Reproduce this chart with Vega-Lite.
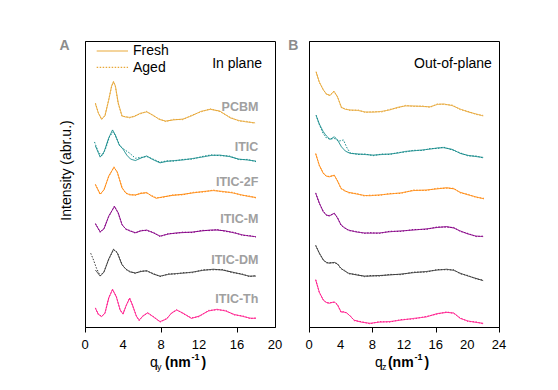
{
  "$schema": "https://vega.github.io/schema/vega-lite/v6.json",
  "background": "white",
  "padding": {"left": 58, "top": 38, "right": 5, "bottom": 5},
  "spacing": 34,
  "bounds": "flush",
  "config": {
    "view": {"stroke": "#000", "strokeWidth": 1},
    "font": "Liberation Sans",
    "axis": {"grid": false, "domainColor": "#000", "tickColor": "#000", "labelColor": "#000", "labelFont": "Liberation Sans", "titleFont": "Liberation Sans", "labelFontSize": 13, "tickSize": 5, "labelPadding": 2, "titleColor": "#000", "titleFontWeight": "normal"}
  },
  "resolve": {"scale": {"x": "independent", "y": "independent"}},
  "datasets": {
    "A": [
      {"s":"PCBM","c":"Fresh","x":1.1,"y":78.0},{"s":"PCBM","c":"Fresh","x":1.4,"y":74.8},{"s":"PCBM","c":"Fresh","x":1.75,"y":72.7},{"s":"PCBM","c":"Fresh","x":2.1,"y":73.8},{"s":"PCBM","c":"Fresh","x":2.5,"y":79.4},{"s":"PCBM","c":"Fresh","x":2.8,"y":84.3},{"s":"PCBM","c":"Fresh","x":3.0,"y":85.7},{"s":"PCBM","c":"Fresh","x":3.2,"y":84.3},{"s":"PCBM","c":"Fresh","x":3.5,"y":78.3},{"s":"PCBM","c":"Fresh","x":3.9,"y":73.8},{"s":"PCBM","c":"Fresh","x":4.3,"y":73.4},{"s":"PCBM","c":"Fresh","x":4.7,"y":73.3},{"s":"PCBM","c":"Fresh","x":5.2,"y":73.6},{"s":"PCBM","c":"Fresh","x":5.8,"y":74.7},{"s":"PCBM","c":"Fresh","x":6.5,"y":75.2},{"s":"PCBM","c":"Fresh","x":7.2,"y":74.0},{"s":"PCBM","c":"Fresh","x":7.8,"y":72.6},{"s":"PCBM","c":"Fresh","x":8.5,"y":72.0},{"s":"PCBM","c":"Fresh","x":9.3,"y":72.4},{"s":"PCBM","c":"Fresh","x":10.3,"y":72.7},{"s":"PCBM","c":"Fresh","x":11.2,"y":73.8},{"s":"PCBM","c":"Fresh","x":12.2,"y":75.4},{"s":"PCBM","c":"Fresh","x":13.2,"y":76.1},{"s":"PCBM","c":"Fresh","x":14.2,"y":75.5},{"s":"PCBM","c":"Fresh","x":15.3,"y":73.1},{"s":"PCBM","c":"Fresh","x":16.2,"y":72.2},{"s":"PCBM","c":"Fresh","x":17.0,"y":71.7},{"s":"PCBM","c":"Fresh","x":17.9,"y":71.4},
      {"s":"ITIC","c":"Fresh","x":1.1,"y":63.3},{"s":"ITIC","c":"Fresh","x":1.6,"y":59.4},{"s":"ITIC","c":"Fresh","x":2.0,"y":61.2},{"s":"ITIC","c":"Fresh","x":2.5,"y":66.1},{"s":"ITIC","c":"Fresh","x":2.9,"y":68.9},{"s":"ITIC","c":"Fresh","x":3.2,"y":67.1},{"s":"ITIC","c":"Fresh","x":3.6,"y":63.6},{"s":"ITIC","c":"Fresh","x":4.0,"y":62.2},{"s":"ITIC","c":"Fresh","x":4.4,"y":60.1},{"s":"ITIC","c":"Fresh","x":4.8,"y":58.7},{"s":"ITIC","c":"Fresh","x":5.3,"y":58.2},{"s":"ITIC","c":"Fresh","x":5.9,"y":59.1},{"s":"ITIC","c":"Fresh","x":6.5,"y":59.8},{"s":"ITIC","c":"Fresh","x":7.1,"y":58.6},{"s":"ITIC","c":"Fresh","x":7.9,"y":57.4},{"s":"ITIC","c":"Fresh","x":8.6,"y":57.9},{"s":"ITIC","c":"Fresh","x":9.4,"y":58.2},{"s":"ITIC","c":"Fresh","x":10.3,"y":58.4},{"s":"ITIC","c":"Fresh","x":11.3,"y":58.9},{"s":"ITIC","c":"Fresh","x":12.3,"y":59.4},{"s":"ITIC","c":"Fresh","x":13.3,"y":60.0},{"s":"ITIC","c":"Fresh","x":14.2,"y":60.1},{"s":"ITIC","c":"Fresh","x":15.2,"y":59.6},{"s":"ITIC","c":"Fresh","x":16.2,"y":58.7},{"s":"ITIC","c":"Fresh","x":17.1,"y":58.4},{"s":"ITIC","c":"Fresh","x":18.0,"y":58.0},
      {"s":"ITIC-2F","c":"Fresh","x":1.1,"y":49.7},{"s":"ITIC-2F","c":"Fresh","x":1.6,"y":46.5},{"s":"ITIC-2F","c":"Fresh","x":2.0,"y":47.9},{"s":"ITIC-2F","c":"Fresh","x":2.5,"y":52.8},{"s":"ITIC-2F","c":"Fresh","x":3.05,"y":55.8},{"s":"ITIC-2F","c":"Fresh","x":3.4,"y":54.2},{"s":"ITIC-2F","c":"Fresh","x":3.9,"y":48.6},{"s":"ITIC-2F","c":"Fresh","x":4.3,"y":46.9},{"s":"ITIC-2F","c":"Fresh","x":4.7,"y":46.2},{"s":"ITIC-2F","c":"Fresh","x":5.3,"y":46.2},{"s":"ITIC-2F","c":"Fresh","x":5.9,"y":46.7},{"s":"ITIC-2F","c":"Fresh","x":6.5,"y":47.0},{"s":"ITIC-2F","c":"Fresh","x":7.0,"y":45.8},{"s":"ITIC-2F","c":"Fresh","x":7.5,"y":45.0},{"s":"ITIC-2F","c":"Fresh","x":8.2,"y":45.5},{"s":"ITIC-2F","c":"Fresh","x":9.2,"y":46.0},{"s":"ITIC-2F","c":"Fresh","x":10.3,"y":46.4},{"s":"ITIC-2F","c":"Fresh","x":11.4,"y":46.9},{"s":"ITIC-2F","c":"Fresh","x":12.5,"y":47.4},{"s":"ITIC-2F","c":"Fresh","x":13.5,"y":47.7},{"s":"ITIC-2F","c":"Fresh","x":14.5,"y":47.4},{"s":"ITIC-2F","c":"Fresh","x":15.5,"y":46.9},{"s":"ITIC-2F","c":"Fresh","x":16.5,"y":46.2},{"s":"ITIC-2F","c":"Fresh","x":17.3,"y":45.6},{"s":"ITIC-2F","c":"Fresh","x":18.0,"y":45.3},
      {"s":"ITIC-M","c":"Fresh","x":1.1,"y":36.0},{"s":"ITIC-M","c":"Fresh","x":1.6,"y":33.3},{"s":"ITIC-M","c":"Fresh","x":2.0,"y":34.3},{"s":"ITIC-M","c":"Fresh","x":2.5,"y":38.8},{"s":"ITIC-M","c":"Fresh","x":3.1,"y":42.1},{"s":"ITIC-M","c":"Fresh","x":3.5,"y":39.9},{"s":"ITIC-M","c":"Fresh","x":3.9,"y":35.7},{"s":"ITIC-M","c":"Fresh","x":4.3,"y":34.3},{"s":"ITIC-M","c":"Fresh","x":4.7,"y":33.6},{"s":"ITIC-M","c":"Fresh","x":5.3,"y":33.0},{"s":"ITIC-M","c":"Fresh","x":5.9,"y":33.6},{"s":"ITIC-M","c":"Fresh","x":6.5,"y":33.9},{"s":"ITIC-M","c":"Fresh","x":7.2,"y":32.9},{"s":"ITIC-M","c":"Fresh","x":7.9,"y":31.8},{"s":"ITIC-M","c":"Fresh","x":8.8,"y":32.5},{"s":"ITIC-M","c":"Fresh","x":9.6,"y":32.9},{"s":"ITIC-M","c":"Fresh","x":10.3,"y":33.0},{"s":"ITIC-M","c":"Fresh","x":11.3,"y":33.2},{"s":"ITIC-M","c":"Fresh","x":12.3,"y":33.6},{"s":"ITIC-M","c":"Fresh","x":13.2,"y":33.9},{"s":"ITIC-M","c":"Fresh","x":13.9,"y":33.9},{"s":"ITIC-M","c":"Fresh","x":14.8,"y":33.6},{"s":"ITIC-M","c":"Fresh","x":15.7,"y":32.9},{"s":"ITIC-M","c":"Fresh","x":16.6,"y":32.2},{"s":"ITIC-M","c":"Fresh","x":17.3,"y":31.8},{"s":"ITIC-M","c":"Fresh","x":18.0,"y":31.6},
      {"s":"ITIC-DM","c":"Fresh","x":1.1,"y":19.9},{"s":"ITIC-DM","c":"Fresh","x":1.6,"y":17.8},{"s":"ITIC-DM","c":"Fresh","x":2.0,"y":19.2},{"s":"ITIC-DM","c":"Fresh","x":2.5,"y":23.8},{"s":"ITIC-DM","c":"Fresh","x":3.0,"y":27.2},{"s":"ITIC-DM","c":"Fresh","x":3.4,"y":25.9},{"s":"ITIC-DM","c":"Fresh","x":3.9,"y":21.7},{"s":"ITIC-DM","c":"Fresh","x":4.3,"y":20.3},{"s":"ITIC-DM","c":"Fresh","x":4.7,"y":19.3},{"s":"ITIC-DM","c":"Fresh","x":5.3,"y":18.9},{"s":"ITIC-DM","c":"Fresh","x":5.9,"y":19.4},{"s":"ITIC-DM","c":"Fresh","x":6.5,"y":19.7},{"s":"ITIC-DM","c":"Fresh","x":7.2,"y":18.5},{"s":"ITIC-DM","c":"Fresh","x":7.9,"y":17.8},{"s":"ITIC-DM","c":"Fresh","x":8.8,"y":18.4},{"s":"ITIC-DM","c":"Fresh","x":9.6,"y":18.7},{"s":"ITIC-DM","c":"Fresh","x":10.3,"y":18.8},{"s":"ITIC-DM","c":"Fresh","x":11.3,"y":19.2},{"s":"ITIC-DM","c":"Fresh","x":12.4,"y":19.8},{"s":"ITIC-DM","c":"Fresh","x":13.5,"y":20.2},{"s":"ITIC-DM","c":"Fresh","x":14.5,"y":19.9},{"s":"ITIC-DM","c":"Fresh","x":15.5,"y":19.2},{"s":"ITIC-DM","c":"Fresh","x":16.5,"y":18.4},{"s":"ITIC-DM","c":"Fresh","x":17.3,"y":17.8},{"s":"ITIC-DM","c":"Fresh","x":18.0,"y":17.8},
      {"s":"ITIC-Th","c":"Fresh","x":1.1,"y":6.5},{"s":"ITIC-Th","c":"Fresh","x":1.4,"y":4.5},{"s":"ITIC-Th","c":"Fresh","x":1.75,"y":3.6},{"s":"ITIC-Th","c":"Fresh","x":2.1,"y":4.9},{"s":"ITIC-Th","c":"Fresh","x":2.5,"y":10.1},{"s":"ITIC-Th","c":"Fresh","x":2.9,"y":13.2},{"s":"ITIC-Th","c":"Fresh","x":3.3,"y":10.5},{"s":"ITIC-Th","c":"Fresh","x":3.7,"y":6.0},{"s":"ITIC-Th","c":"Fresh","x":4.0,"y":4.5},{"s":"ITIC-Th","c":"Fresh","x":4.35,"y":7.7},{"s":"ITIC-Th","c":"Fresh","x":4.7,"y":10.0},{"s":"ITIC-Th","c":"Fresh","x":5.0,"y":7.7},{"s":"ITIC-Th","c":"Fresh","x":5.4,"y":3.8},{"s":"ITIC-Th","c":"Fresh","x":5.7,"y":2.4},{"s":"ITIC-Th","c":"Fresh","x":6.1,"y":3.8},{"s":"ITIC-Th","c":"Fresh","x":6.6,"y":5.0},{"s":"ITIC-Th","c":"Fresh","x":7.2,"y":3.5},{"s":"ITIC-Th","c":"Fresh","x":7.9,"y":1.9},{"s":"ITIC-Th","c":"Fresh","x":8.6,"y":2.8},{"s":"ITIC-Th","c":"Fresh","x":9.1,"y":4.9},{"s":"ITIC-Th","c":"Fresh","x":9.65,"y":5.9},{"s":"ITIC-Th","c":"Fresh","x":10.3,"y":4.9},{"s":"ITIC-Th","c":"Fresh","x":11.2,"y":3.0},{"s":"ITIC-Th","c":"Fresh","x":12.0,"y":3.8},{"s":"ITIC-Th","c":"Fresh","x":13.0,"y":5.6},{"s":"ITIC-Th","c":"Fresh","x":13.9,"y":6.2},{"s":"ITIC-Th","c":"Fresh","x":14.8,"y":5.6},{"s":"ITIC-Th","c":"Fresh","x":15.7,"y":4.4},{"s":"ITIC-Th","c":"Fresh","x":16.6,"y":3.7},{"s":"ITIC-Th","c":"Fresh","x":17.4,"y":3.1},{"s":"ITIC-Th","c":"Fresh","x":18.0,"y":3.0},
      {"s":"PCBM","c":"Aged","x":1.1,"y":78.3},{"s":"PCBM","c":"Aged","x":1.4,"y":75.0},{"s":"PCBM","c":"Aged","x":1.75,"y":72.5},{"s":"PCBM","c":"Aged","x":2.1,"y":74.0},{"s":"PCBM","c":"Aged","x":2.5,"y":79.6},{"s":"PCBM","c":"Aged","x":2.8,"y":84.0},{"s":"PCBM","c":"Aged","x":3.0,"y":85.9},{"s":"PCBM","c":"Aged","x":3.2,"y":84.0},{"s":"PCBM","c":"Aged","x":3.5,"y":78.0},{"s":"PCBM","c":"Aged","x":3.9,"y":73.6},{"s":"PCBM","c":"Aged","x":4.3,"y":73.6},{"s":"PCBM","c":"Aged","x":4.7,"y":73.1},{"s":"PCBM","c":"Aged","x":5.2,"y":73.8},{"s":"PCBM","c":"Aged","x":5.8,"y":74.5},{"s":"PCBM","c":"Aged","x":6.5,"y":75.4},{"s":"PCBM","c":"Aged","x":7.2,"y":73.8},{"s":"PCBM","c":"Aged","x":7.8,"y":72.8},{"s":"PCBM","c":"Aged","x":8.5,"y":71.8},{"s":"PCBM","c":"Aged","x":9.3,"y":72.6},{"s":"PCBM","c":"Aged","x":10.3,"y":72.5},{"s":"PCBM","c":"Aged","x":11.2,"y":74.0},{"s":"PCBM","c":"Aged","x":12.2,"y":75.2},{"s":"PCBM","c":"Aged","x":13.2,"y":76.3},{"s":"PCBM","c":"Aged","x":14.2,"y":75.3},{"s":"PCBM","c":"Aged","x":15.3,"y":73.3},{"s":"PCBM","c":"Aged","x":16.2,"y":72.0},{"s":"PCBM","c":"Aged","x":17.0,"y":71.9},{"s":"PCBM","c":"Aged","x":17.9,"y":71.2},
      {"s":"ITIC","c":"Aged","x":1.0,"y":64.7},{"s":"ITIC","c":"Aged","x":1.4,"y":61.2},{"s":"ITIC","c":"Aged","x":1.8,"y":59.8},{"s":"ITIC","c":"Aged","x":2.2,"y":62.6},{"s":"ITIC","c":"Aged","x":2.6,"y":66.8},{"s":"ITIC","c":"Aged","x":3.0,"y":68.2},{"s":"ITIC","c":"Aged","x":3.3,"y":66.1},{"s":"ITIC","c":"Aged","x":3.7,"y":63.3},{"s":"ITIC","c":"Aged","x":4.2,"y":61.9},{"s":"ITIC","c":"Aged","x":4.7,"y":60.8},{"s":"ITIC","c":"Aged","x":5.3,"y":59.0},{"s":"ITIC","c":"Aged","x":5.9,"y":59.3},{"s":"ITIC","c":"Aged","x":6.5,"y":59.6},{"s":"ITIC","c":"Aged","x":7.1,"y":58.8},{"s":"ITIC","c":"Aged","x":7.9,"y":57.6},{"s":"ITIC","c":"Aged","x":8.6,"y":58.1},{"s":"ITIC","c":"Aged","x":9.4,"y":58.0},{"s":"ITIC","c":"Aged","x":10.3,"y":58.6},{"s":"ITIC","c":"Aged","x":11.3,"y":58.7},{"s":"ITIC","c":"Aged","x":12.3,"y":59.6},{"s":"ITIC","c":"Aged","x":13.3,"y":60.2},{"s":"ITIC","c":"Aged","x":14.2,"y":59.9},{"s":"ITIC","c":"Aged","x":15.2,"y":59.8},{"s":"ITIC","c":"Aged","x":16.2,"y":58.5},{"s":"ITIC","c":"Aged","x":17.1,"y":58.6},{"s":"ITIC","c":"Aged","x":18.0,"y":57.8},
      {"s":"ITIC-2F","c":"Aged","x":1.1,"y":49.9},{"s":"ITIC-2F","c":"Aged","x":1.6,"y":46.3},{"s":"ITIC-2F","c":"Aged","x":2.0,"y":48.1},{"s":"ITIC-2F","c":"Aged","x":2.5,"y":52.6},{"s":"ITIC-2F","c":"Aged","x":3.05,"y":56.0},{"s":"ITIC-2F","c":"Aged","x":3.4,"y":54.0},{"s":"ITIC-2F","c":"Aged","x":3.9,"y":48.8},{"s":"ITIC-2F","c":"Aged","x":4.3,"y":46.7},{"s":"ITIC-2F","c":"Aged","x":4.7,"y":46.4},{"s":"ITIC-2F","c":"Aged","x":5.3,"y":46.0},{"s":"ITIC-2F","c":"Aged","x":5.9,"y":46.9},{"s":"ITIC-2F","c":"Aged","x":6.5,"y":46.8},{"s":"ITIC-2F","c":"Aged","x":7.0,"y":46.0},{"s":"ITIC-2F","c":"Aged","x":7.5,"y":45.2},{"s":"ITIC-2F","c":"Aged","x":8.2,"y":45.3},{"s":"ITIC-2F","c":"Aged","x":9.2,"y":46.2},{"s":"ITIC-2F","c":"Aged","x":10.3,"y":46.2},{"s":"ITIC-2F","c":"Aged","x":11.4,"y":47.1},{"s":"ITIC-2F","c":"Aged","x":12.5,"y":47.2},{"s":"ITIC-2F","c":"Aged","x":13.5,"y":47.9},{"s":"ITIC-2F","c":"Aged","x":14.5,"y":47.2},{"s":"ITIC-2F","c":"Aged","x":15.5,"y":47.1},{"s":"ITIC-2F","c":"Aged","x":16.5,"y":46.0},{"s":"ITIC-2F","c":"Aged","x":17.3,"y":45.8},{"s":"ITIC-2F","c":"Aged","x":18.0,"y":45.1},
      {"s":"ITIC-M","c":"Aged","x":1.1,"y":36.2},{"s":"ITIC-M","c":"Aged","x":1.6,"y":33.1},{"s":"ITIC-M","c":"Aged","x":2.0,"y":34.5},{"s":"ITIC-M","c":"Aged","x":2.5,"y":38.6},{"s":"ITIC-M","c":"Aged","x":3.1,"y":42.3},{"s":"ITIC-M","c":"Aged","x":3.5,"y":39.7},{"s":"ITIC-M","c":"Aged","x":3.9,"y":35.9},{"s":"ITIC-M","c":"Aged","x":4.3,"y":34.1},{"s":"ITIC-M","c":"Aged","x":4.7,"y":33.8},{"s":"ITIC-M","c":"Aged","x":5.3,"y":32.8},{"s":"ITIC-M","c":"Aged","x":5.9,"y":33.8},{"s":"ITIC-M","c":"Aged","x":6.5,"y":33.7},{"s":"ITIC-M","c":"Aged","x":7.2,"y":33.1},{"s":"ITIC-M","c":"Aged","x":7.9,"y":31.6},{"s":"ITIC-M","c":"Aged","x":8.8,"y":32.7},{"s":"ITIC-M","c":"Aged","x":9.6,"y":32.7},{"s":"ITIC-M","c":"Aged","x":10.3,"y":33.2},{"s":"ITIC-M","c":"Aged","x":11.3,"y":33.0},{"s":"ITIC-M","c":"Aged","x":12.3,"y":33.8},{"s":"ITIC-M","c":"Aged","x":13.2,"y":33.7},{"s":"ITIC-M","c":"Aged","x":13.9,"y":34.1},{"s":"ITIC-M","c":"Aged","x":14.8,"y":33.4},{"s":"ITIC-M","c":"Aged","x":15.7,"y":33.1},{"s":"ITIC-M","c":"Aged","x":16.6,"y":32.0},{"s":"ITIC-M","c":"Aged","x":17.3,"y":32.0},{"s":"ITIC-M","c":"Aged","x":18.0,"y":31.4},
      {"s":"ITIC-DM","c":"Aged","x":0.6,"y":25.8},{"s":"ITIC-DM","c":"Aged","x":0.9,"y":23.4},{"s":"ITIC-DM","c":"Aged","x":1.2,"y":20.6},{"s":"ITIC-DM","c":"Aged","x":1.6,"y":17.9},{"s":"ITIC-DM","c":"Aged","x":2.0,"y":19.4},{"s":"ITIC-DM","c":"Aged","x":2.5,"y":23.6},{"s":"ITIC-DM","c":"Aged","x":3.0,"y":27.0},{"s":"ITIC-DM","c":"Aged","x":3.4,"y":26.1},{"s":"ITIC-DM","c":"Aged","x":3.9,"y":21.9},{"s":"ITIC-DM","c":"Aged","x":4.3,"y":20.1},{"s":"ITIC-DM","c":"Aged","x":4.7,"y":19.5},{"s":"ITIC-DM","c":"Aged","x":5.3,"y":18.7},{"s":"ITIC-DM","c":"Aged","x":5.9,"y":19.6},{"s":"ITIC-DM","c":"Aged","x":6.5,"y":19.5},{"s":"ITIC-DM","c":"Aged","x":7.2,"y":18.7},{"s":"ITIC-DM","c":"Aged","x":7.9,"y":17.6},{"s":"ITIC-DM","c":"Aged","x":8.8,"y":18.6},{"s":"ITIC-DM","c":"Aged","x":9.6,"y":18.5},{"s":"ITIC-DM","c":"Aged","x":10.3,"y":19.0},{"s":"ITIC-DM","c":"Aged","x":11.3,"y":19.0},{"s":"ITIC-DM","c":"Aged","x":12.4,"y":20.0},{"s":"ITIC-DM","c":"Aged","x":13.5,"y":20.0},{"s":"ITIC-DM","c":"Aged","x":14.5,"y":20.1},{"s":"ITIC-DM","c":"Aged","x":15.5,"y":19.0},{"s":"ITIC-DM","c":"Aged","x":16.5,"y":18.6},{"s":"ITIC-DM","c":"Aged","x":17.3,"y":17.6},{"s":"ITIC-DM","c":"Aged","x":18.0,"y":18.0},
      {"s":"ITIC-Th","c":"Aged","x":1.1,"y":6.7},{"s":"ITIC-Th","c":"Aged","x":1.4,"y":4.3},{"s":"ITIC-Th","c":"Aged","x":1.75,"y":3.8},{"s":"ITIC-Th","c":"Aged","x":2.1,"y":4.7},{"s":"ITIC-Th","c":"Aged","x":2.5,"y":10.3},{"s":"ITIC-Th","c":"Aged","x":2.9,"y":13.0},{"s":"ITIC-Th","c":"Aged","x":3.3,"y":10.7},{"s":"ITIC-Th","c":"Aged","x":3.7,"y":5.8},{"s":"ITIC-Th","c":"Aged","x":4.0,"y":4.7},{"s":"ITIC-Th","c":"Aged","x":4.35,"y":7.5},{"s":"ITIC-Th","c":"Aged","x":4.7,"y":10.2},{"s":"ITIC-Th","c":"Aged","x":5.0,"y":7.5},{"s":"ITIC-Th","c":"Aged","x":5.4,"y":4.0},{"s":"ITIC-Th","c":"Aged","x":5.7,"y":2.2},{"s":"ITIC-Th","c":"Aged","x":6.1,"y":4.0},{"s":"ITIC-Th","c":"Aged","x":6.6,"y":4.8},{"s":"ITIC-Th","c":"Aged","x":7.2,"y":3.7},{"s":"ITIC-Th","c":"Aged","x":7.9,"y":1.7},{"s":"ITIC-Th","c":"Aged","x":8.6,"y":3.0},{"s":"ITIC-Th","c":"Aged","x":9.1,"y":4.7},{"s":"ITIC-Th","c":"Aged","x":9.65,"y":6.1},{"s":"ITIC-Th","c":"Aged","x":10.3,"y":4.7},{"s":"ITIC-Th","c":"Aged","x":11.2,"y":3.2},{"s":"ITIC-Th","c":"Aged","x":12.0,"y":3.6},{"s":"ITIC-Th","c":"Aged","x":13.0,"y":5.8},{"s":"ITIC-Th","c":"Aged","x":13.9,"y":6.0},{"s":"ITIC-Th","c":"Aged","x":14.8,"y":5.8},{"s":"ITIC-Th","c":"Aged","x":15.7,"y":4.2},{"s":"ITIC-Th","c":"Aged","x":16.6,"y":3.9},{"s":"ITIC-Th","c":"Aged","x":17.4,"y":2.9},{"s":"ITIC-Th","c":"Aged","x":18.0,"y":3.2}
    ],
    "B": [
      {"s":"PCBM","c":"Fresh","x":0.9,"y":89.1},{"s":"PCBM","c":"Fresh","x":1.3,"y":85.7},{"s":"PCBM","c":"Fresh","x":1.8,"y":82.9},{"s":"PCBM","c":"Fresh","x":2.2,"y":81.5},{"s":"PCBM","c":"Fresh","x":2.65,"y":80.9},{"s":"PCBM","c":"Fresh","x":3.15,"y":82.5},{"s":"PCBM","c":"Fresh","x":3.6,"y":80.4},{"s":"PCBM","c":"Fresh","x":4.1,"y":76.8},{"s":"PCBM","c":"Fresh","x":4.6,"y":76.1},{"s":"PCBM","c":"Fresh","x":5.2,"y":75.9},{"s":"PCBM","c":"Fresh","x":6.2,"y":75.7},{"s":"PCBM","c":"Fresh","x":7.1,"y":75.2},{"s":"PCBM","c":"Fresh","x":8.1,"y":75.1},{"s":"PCBM","c":"Fresh","x":9.2,"y":75.4},{"s":"PCBM","c":"Fresh","x":10.2,"y":75.9},{"s":"PCBM","c":"Fresh","x":11.2,"y":76.8},{"s":"PCBM","c":"Fresh","x":12.2,"y":77.3},{"s":"PCBM","c":"Fresh","x":13.2,"y":77.3},{"s":"PCBM","c":"Fresh","x":14.3,"y":77.1},{"s":"PCBM","c":"Fresh","x":15.3,"y":77.0},{"s":"PCBM","c":"Fresh","x":16.2,"y":77.8},{"s":"PCBM","c":"Fresh","x":17.0,"y":78.0},{"s":"PCBM","c":"Fresh","x":18.1,"y":77.4},{"s":"PCBM","c":"Fresh","x":19.1,"y":76.2},{"s":"PCBM","c":"Fresh","x":20.1,"y":75.2},{"s":"PCBM","c":"Fresh","x":21.1,"y":74.5},{"s":"PCBM","c":"Fresh","x":22.0,"y":73.8},
      {"s":"ITIC","c":"Fresh","x":0.9,"y":73.9},{"s":"ITIC","c":"Fresh","x":1.3,"y":71.0},{"s":"ITIC","c":"Fresh","x":1.8,"y":68.3},{"s":"ITIC","c":"Fresh","x":2.2,"y":66.8},{"s":"ITIC","c":"Fresh","x":2.65,"y":65.6},{"s":"ITIC","c":"Fresh","x":3.2,"y":66.5},{"s":"ITIC","c":"Fresh","x":3.6,"y":65.4},{"s":"ITIC","c":"Fresh","x":4.1,"y":63.0},{"s":"ITIC","c":"Fresh","x":4.6,"y":61.5},{"s":"ITIC","c":"Fresh","x":5.2,"y":60.7},{"s":"ITIC","c":"Fresh","x":6.2,"y":60.5},{"s":"ITIC","c":"Fresh","x":7.1,"y":60.3},{"s":"ITIC","c":"Fresh","x":8.1,"y":60.1},{"s":"ITIC","c":"Fresh","x":9.2,"y":60.3},{"s":"ITIC","c":"Fresh","x":10.2,"y":60.5},{"s":"ITIC","c":"Fresh","x":11.2,"y":60.8},{"s":"ITIC","c":"Fresh","x":12.2,"y":61.4},{"s":"ITIC","c":"Fresh","x":13.2,"y":61.6},{"s":"ITIC","c":"Fresh","x":14.3,"y":61.9},{"s":"ITIC","c":"Fresh","x":15.3,"y":62.2},{"s":"ITIC","c":"Fresh","x":16.2,"y":62.6},{"s":"ITIC","c":"Fresh","x":17.0,"y":62.7},{"s":"ITIC","c":"Fresh","x":18.1,"y":62.1},{"s":"ITIC","c":"Fresh","x":19.1,"y":60.7},{"s":"ITIC","c":"Fresh","x":20.1,"y":60.0},{"s":"ITIC","c":"Fresh","x":21.1,"y":59.6},{"s":"ITIC","c":"Fresh","x":22.0,"y":59.3},
      {"s":"ITIC-2F","c":"Fresh","x":0.85,"y":60.5},{"s":"ITIC-2F","c":"Fresh","x":1.3,"y":56.6},{"s":"ITIC-2F","c":"Fresh","x":1.8,"y":53.7},{"s":"ITIC-2F","c":"Fresh","x":2.2,"y":52.8},{"s":"ITIC-2F","c":"Fresh","x":2.55,"y":52.5},{"s":"ITIC-2F","c":"Fresh","x":3.2,"y":53.1},{"s":"ITIC-2F","c":"Fresh","x":3.6,"y":51.0},{"s":"ITIC-2F","c":"Fresh","x":4.05,"y":48.5},{"s":"ITIC-2F","c":"Fresh","x":4.5,"y":47.6},{"s":"ITIC-2F","c":"Fresh","x":5.0,"y":47.1},{"s":"ITIC-2F","c":"Fresh","x":6.0,"y":46.5},{"s":"ITIC-2F","c":"Fresh","x":7.0,"y":46.0},{"s":"ITIC-2F","c":"Fresh","x":7.7,"y":45.9},{"s":"ITIC-2F","c":"Fresh","x":8.9,"y":46.2},{"s":"ITIC-2F","c":"Fresh","x":10.2,"y":46.5},{"s":"ITIC-2F","c":"Fresh","x":11.6,"y":46.9},{"s":"ITIC-2F","c":"Fresh","x":13.2,"y":47.7},{"s":"ITIC-2F","c":"Fresh","x":14.8,"y":47.9},{"s":"ITIC-2F","c":"Fresh","x":16.2,"y":48.3},{"s":"ITIC-2F","c":"Fresh","x":17.4,"y":48.7},{"s":"ITIC-2F","c":"Fresh","x":18.3,"y":48.3},{"s":"ITIC-2F","c":"Fresh","x":19.1,"y":47.1},{"s":"ITIC-2F","c":"Fresh","x":20.1,"y":46.2},{"s":"ITIC-2F","c":"Fresh","x":21.1,"y":45.5},{"s":"ITIC-2F","c":"Fresh","x":22.1,"y":44.8},
      {"s":"ITIC-M","c":"Fresh","x":0.85,"y":46.7},{"s":"ITIC-M","c":"Fresh","x":1.3,"y":43.4},{"s":"ITIC-M","c":"Fresh","x":1.8,"y":40.3},{"s":"ITIC-M","c":"Fresh","x":2.2,"y":39.2},{"s":"ITIC-M","c":"Fresh","x":2.55,"y":38.8},{"s":"ITIC-M","c":"Fresh","x":3.2,"y":39.8},{"s":"ITIC-M","c":"Fresh","x":3.6,"y":38.1},{"s":"ITIC-M","c":"Fresh","x":4.05,"y":35.7},{"s":"ITIC-M","c":"Fresh","x":4.5,"y":34.6},{"s":"ITIC-M","c":"Fresh","x":5.0,"y":33.9},{"s":"ITIC-M","c":"Fresh","x":6.0,"y":33.2},{"s":"ITIC-M","c":"Fresh","x":7.0,"y":32.9},{"s":"ITIC-M","c":"Fresh","x":7.7,"y":32.8},{"s":"ITIC-M","c":"Fresh","x":8.9,"y":32.9},{"s":"ITIC-M","c":"Fresh","x":10.2,"y":33.3},{"s":"ITIC-M","c":"Fresh","x":11.6,"y":33.6},{"s":"ITIC-M","c":"Fresh","x":13.2,"y":33.9},{"s":"ITIC-M","c":"Fresh","x":14.8,"y":34.3},{"s":"ITIC-M","c":"Fresh","x":16.2,"y":34.8},{"s":"ITIC-M","c":"Fresh","x":17.4,"y":35.1},{"s":"ITIC-M","c":"Fresh","x":18.3,"y":34.6},{"s":"ITIC-M","c":"Fresh","x":19.1,"y":33.6},{"s":"ITIC-M","c":"Fresh","x":20.1,"y":32.5},{"s":"ITIC-M","c":"Fresh","x":21.1,"y":31.8},{"s":"ITIC-M","c":"Fresh","x":22.0,"y":31.6},
      {"s":"ITIC-DM","c":"Fresh","x":0.85,"y":28.4},{"s":"ITIC-DM","c":"Fresh","x":1.3,"y":25.9},{"s":"ITIC-DM","c":"Fresh","x":1.8,"y":23.4},{"s":"ITIC-DM","c":"Fresh","x":2.2,"y":22.6},{"s":"ITIC-DM","c":"Fresh","x":2.55,"y":22.3},{"s":"ITIC-DM","c":"Fresh","x":3.2,"y":22.6},{"s":"ITIC-DM","c":"Fresh","x":3.6,"y":22.0},{"s":"ITIC-DM","c":"Fresh","x":4.05,"y":20.5},{"s":"ITIC-DM","c":"Fresh","x":4.5,"y":19.6},{"s":"ITIC-DM","c":"Fresh","x":5.0,"y":18.8},{"s":"ITIC-DM","c":"Fresh","x":6.0,"y":18.2},{"s":"ITIC-DM","c":"Fresh","x":7.0,"y":17.8},{"s":"ITIC-DM","c":"Fresh","x":7.7,"y":17.8},{"s":"ITIC-DM","c":"Fresh","x":8.9,"y":18.0},{"s":"ITIC-DM","c":"Fresh","x":10.2,"y":18.2},{"s":"ITIC-DM","c":"Fresh","x":11.6,"y":18.5},{"s":"ITIC-DM","c":"Fresh","x":13.2,"y":19.0},{"s":"ITIC-DM","c":"Fresh","x":14.8,"y":19.4},{"s":"ITIC-DM","c":"Fresh","x":16.2,"y":19.9},{"s":"ITIC-DM","c":"Fresh","x":17.4,"y":20.2},{"s":"ITIC-DM","c":"Fresh","x":18.3,"y":19.8},{"s":"ITIC-DM","c":"Fresh","x":19.1,"y":18.8},{"s":"ITIC-DM","c":"Fresh","x":20.1,"y":17.8},{"s":"ITIC-DM","c":"Fresh","x":21.1,"y":17.0},{"s":"ITIC-DM","c":"Fresh","x":22.0,"y":16.2},
      {"s":"ITIC-Th","c":"Fresh","x":0.85,"y":16.4},{"s":"ITIC-Th","c":"Fresh","x":1.3,"y":12.2},{"s":"ITIC-Th","c":"Fresh","x":1.8,"y":9.4},{"s":"ITIC-Th","c":"Fresh","x":2.2,"y":8.6},{"s":"ITIC-Th","c":"Fresh","x":2.55,"y":8.3},{"s":"ITIC-Th","c":"Fresh","x":3.2,"y":8.8},{"s":"ITIC-Th","c":"Fresh","x":3.6,"y":7.7},{"s":"ITIC-Th","c":"Fresh","x":4.05,"y":5.3},{"s":"ITIC-Th","c":"Fresh","x":4.4,"y":5.2},{"s":"ITIC-Th","c":"Fresh","x":4.75,"y":5.0},{"s":"ITIC-Th","c":"Fresh","x":5.2,"y":3.8},{"s":"ITIC-Th","c":"Fresh","x":5.7,"y":2.4},{"s":"ITIC-Th","c":"Fresh","x":6.6,"y":1.7},{"s":"ITIC-Th","c":"Fresh","x":7.7,"y":1.3},{"s":"ITIC-Th","c":"Fresh","x":8.9,"y":1.7},{"s":"ITIC-Th","c":"Fresh","x":10.2,"y":1.9},{"s":"ITIC-Th","c":"Fresh","x":11.6,"y":2.4},{"s":"ITIC-Th","c":"Fresh","x":13.2,"y":3.0},{"s":"ITIC-Th","c":"Fresh","x":14.8,"y":3.5},{"s":"ITIC-Th","c":"Fresh","x":16.2,"y":4.7},{"s":"ITIC-Th","c":"Fresh","x":17.4,"y":5.1},{"s":"ITIC-Th","c":"Fresh","x":18.3,"y":4.9},{"s":"ITIC-Th","c":"Fresh","x":19.1,"y":3.0},{"s":"ITIC-Th","c":"Fresh","x":20.1,"y":2.1},{"s":"ITIC-Th","c":"Fresh","x":21.1,"y":1.6},{"s":"ITIC-Th","c":"Fresh","x":22.0,"y":1.3},
      {"s":"PCBM","c":"Aged","x":0.9,"y":89.3},{"s":"PCBM","c":"Aged","x":1.3,"y":85.5},{"s":"PCBM","c":"Aged","x":1.8,"y":83.1},{"s":"PCBM","c":"Aged","x":2.2,"y":81.3},{"s":"PCBM","c":"Aged","x":2.65,"y":81.1},{"s":"PCBM","c":"Aged","x":3.15,"y":82.3},{"s":"PCBM","c":"Aged","x":3.6,"y":80.6},{"s":"PCBM","c":"Aged","x":4.1,"y":76.6},{"s":"PCBM","c":"Aged","x":4.6,"y":76.3},{"s":"PCBM","c":"Aged","x":5.2,"y":75.7},{"s":"PCBM","c":"Aged","x":6.2,"y":75.9},{"s":"PCBM","c":"Aged","x":7.1,"y":75.0},{"s":"PCBM","c":"Aged","x":8.1,"y":75.3},{"s":"PCBM","c":"Aged","x":9.2,"y":75.2},{"s":"PCBM","c":"Aged","x":10.2,"y":76.1},{"s":"PCBM","c":"Aged","x":11.2,"y":76.6},{"s":"PCBM","c":"Aged","x":12.2,"y":77.5},{"s":"PCBM","c":"Aged","x":13.2,"y":77.1},{"s":"PCBM","c":"Aged","x":14.3,"y":77.3},{"s":"PCBM","c":"Aged","x":15.3,"y":76.8},{"s":"PCBM","c":"Aged","x":16.2,"y":78.0},{"s":"PCBM","c":"Aged","x":17.0,"y":77.8},{"s":"PCBM","c":"Aged","x":18.1,"y":77.6},{"s":"PCBM","c":"Aged","x":19.1,"y":76.0},{"s":"PCBM","c":"Aged","x":20.1,"y":75.4},{"s":"PCBM","c":"Aged","x":21.1,"y":74.3},{"s":"PCBM","c":"Aged","x":22.0,"y":74.0},
      {"s":"ITIC","c":"Aged","x":0.9,"y":74.1},{"s":"ITIC","c":"Aged","x":1.3,"y":70.8},{"s":"ITIC","c":"Aged","x":1.8,"y":67.6},{"s":"ITIC","c":"Aged","x":2.2,"y":66.1},{"s":"ITIC","c":"Aged","x":2.65,"y":65.7},{"s":"ITIC","c":"Aged","x":3.2,"y":65.9},{"s":"ITIC","c":"Aged","x":3.8,"y":65.0},{"s":"ITIC","c":"Aged","x":4.35,"y":65.4},{"s":"ITIC","c":"Aged","x":4.8,"y":62.6},{"s":"ITIC","c":"Aged","x":5.2,"y":60.9},{"s":"ITIC","c":"Aged","x":6.2,"y":60.3},{"s":"ITIC","c":"Aged","x":7.1,"y":60.5},{"s":"ITIC","c":"Aged","x":8.1,"y":59.9},{"s":"ITIC","c":"Aged","x":9.2,"y":60.5},{"s":"ITIC","c":"Aged","x":10.2,"y":60.3},{"s":"ITIC","c":"Aged","x":11.2,"y":61.0},{"s":"ITIC","c":"Aged","x":12.2,"y":61.2},{"s":"ITIC","c":"Aged","x":13.2,"y":61.8},{"s":"ITIC","c":"Aged","x":14.3,"y":61.7},{"s":"ITIC","c":"Aged","x":15.3,"y":62.4},{"s":"ITIC","c":"Aged","x":16.2,"y":62.4},{"s":"ITIC","c":"Aged","x":17.0,"y":62.9},{"s":"ITIC","c":"Aged","x":18.1,"y":61.9},{"s":"ITIC","c":"Aged","x":19.1,"y":60.9},{"s":"ITIC","c":"Aged","x":20.1,"y":59.8},{"s":"ITIC","c":"Aged","x":21.1,"y":59.8},{"s":"ITIC","c":"Aged","x":22.0,"y":59.1},
      {"s":"ITIC-2F","c":"Aged","x":0.85,"y":60.7},{"s":"ITIC-2F","c":"Aged","x":1.3,"y":56.4},{"s":"ITIC-2F","c":"Aged","x":1.8,"y":53.9},{"s":"ITIC-2F","c":"Aged","x":2.2,"y":52.6},{"s":"ITIC-2F","c":"Aged","x":2.55,"y":52.7},{"s":"ITIC-2F","c":"Aged","x":3.2,"y":52.9},{"s":"ITIC-2F","c":"Aged","x":3.6,"y":51.2},{"s":"ITIC-2F","c":"Aged","x":4.05,"y":48.3},{"s":"ITIC-2F","c":"Aged","x":4.5,"y":47.8},{"s":"ITIC-2F","c":"Aged","x":5.0,"y":46.9},{"s":"ITIC-2F","c":"Aged","x":6.0,"y":46.7},{"s":"ITIC-2F","c":"Aged","x":7.0,"y":45.8},{"s":"ITIC-2F","c":"Aged","x":7.7,"y":46.1},{"s":"ITIC-2F","c":"Aged","x":8.9,"y":46.0},{"s":"ITIC-2F","c":"Aged","x":10.2,"y":46.7},{"s":"ITIC-2F","c":"Aged","x":11.6,"y":46.7},{"s":"ITIC-2F","c":"Aged","x":13.2,"y":47.9},{"s":"ITIC-2F","c":"Aged","x":14.8,"y":47.7},{"s":"ITIC-2F","c":"Aged","x":16.2,"y":48.5},{"s":"ITIC-2F","c":"Aged","x":17.4,"y":48.5},{"s":"ITIC-2F","c":"Aged","x":18.3,"y":48.5},{"s":"ITIC-2F","c":"Aged","x":19.1,"y":46.9},{"s":"ITIC-2F","c":"Aged","x":20.1,"y":46.4},{"s":"ITIC-2F","c":"Aged","x":21.1,"y":45.3},{"s":"ITIC-2F","c":"Aged","x":22.1,"y":45.0},
      {"s":"ITIC-M","c":"Aged","x":0.85,"y":46.9},{"s":"ITIC-M","c":"Aged","x":1.3,"y":43.2},{"s":"ITIC-M","c":"Aged","x":1.8,"y":40.5},{"s":"ITIC-M","c":"Aged","x":2.2,"y":39.0},{"s":"ITIC-M","c":"Aged","x":2.55,"y":39.0},{"s":"ITIC-M","c":"Aged","x":3.2,"y":39.6},{"s":"ITIC-M","c":"Aged","x":3.6,"y":38.3},{"s":"ITIC-M","c":"Aged","x":4.05,"y":35.5},{"s":"ITIC-M","c":"Aged","x":4.5,"y":34.8},{"s":"ITIC-M","c":"Aged","x":5.0,"y":33.7},{"s":"ITIC-M","c":"Aged","x":6.0,"y":33.4},{"s":"ITIC-M","c":"Aged","x":7.0,"y":32.7},{"s":"ITIC-M","c":"Aged","x":7.7,"y":33.0},{"s":"ITIC-M","c":"Aged","x":8.9,"y":32.7},{"s":"ITIC-M","c":"Aged","x":10.2,"y":33.5},{"s":"ITIC-M","c":"Aged","x":11.6,"y":33.4},{"s":"ITIC-M","c":"Aged","x":13.2,"y":34.1},{"s":"ITIC-M","c":"Aged","x":14.8,"y":34.1},{"s":"ITIC-M","c":"Aged","x":16.2,"y":35.0},{"s":"ITIC-M","c":"Aged","x":17.4,"y":34.9},{"s":"ITIC-M","c":"Aged","x":18.3,"y":34.8},{"s":"ITIC-M","c":"Aged","x":19.1,"y":33.4},{"s":"ITIC-M","c":"Aged","x":20.1,"y":32.7},{"s":"ITIC-M","c":"Aged","x":21.1,"y":31.6},{"s":"ITIC-M","c":"Aged","x":22.0,"y":31.8},
      {"s":"ITIC-DM","c":"Aged","x":0.85,"y":28.6},{"s":"ITIC-DM","c":"Aged","x":1.3,"y":25.7},{"s":"ITIC-DM","c":"Aged","x":1.8,"y":23.6},{"s":"ITIC-DM","c":"Aged","x":2.2,"y":22.4},{"s":"ITIC-DM","c":"Aged","x":2.55,"y":22.5},{"s":"ITIC-DM","c":"Aged","x":3.2,"y":22.4},{"s":"ITIC-DM","c":"Aged","x":3.6,"y":22.2},{"s":"ITIC-DM","c":"Aged","x":4.05,"y":20.3},{"s":"ITIC-DM","c":"Aged","x":4.5,"y":19.8},{"s":"ITIC-DM","c":"Aged","x":5.0,"y":18.6},{"s":"ITIC-DM","c":"Aged","x":6.0,"y":18.4},{"s":"ITIC-DM","c":"Aged","x":7.0,"y":17.6},{"s":"ITIC-DM","c":"Aged","x":7.7,"y":18.0},{"s":"ITIC-DM","c":"Aged","x":8.9,"y":17.8},{"s":"ITIC-DM","c":"Aged","x":10.2,"y":18.4},{"s":"ITIC-DM","c":"Aged","x":11.6,"y":18.3},{"s":"ITIC-DM","c":"Aged","x":13.2,"y":19.2},{"s":"ITIC-DM","c":"Aged","x":14.8,"y":19.2},{"s":"ITIC-DM","c":"Aged","x":16.2,"y":20.1},{"s":"ITIC-DM","c":"Aged","x":17.4,"y":20.0},{"s":"ITIC-DM","c":"Aged","x":18.3,"y":20.0},{"s":"ITIC-DM","c":"Aged","x":19.1,"y":18.6},{"s":"ITIC-DM","c":"Aged","x":20.1,"y":18.0},{"s":"ITIC-DM","c":"Aged","x":21.1,"y":16.8},{"s":"ITIC-DM","c":"Aged","x":22.0,"y":16.4},
      {"s":"ITIC-Th","c":"Aged","x":0.85,"y":16.6},{"s":"ITIC-Th","c":"Aged","x":1.3,"y":12.0},{"s":"ITIC-Th","c":"Aged","x":1.8,"y":9.6},{"s":"ITIC-Th","c":"Aged","x":2.2,"y":8.4},{"s":"ITIC-Th","c":"Aged","x":2.55,"y":8.5},{"s":"ITIC-Th","c":"Aged","x":3.2,"y":8.6},{"s":"ITIC-Th","c":"Aged","x":3.6,"y":7.9},{"s":"ITIC-Th","c":"Aged","x":4.05,"y":5.1},{"s":"ITIC-Th","c":"Aged","x":4.4,"y":5.4},{"s":"ITIC-Th","c":"Aged","x":4.75,"y":4.8},{"s":"ITIC-Th","c":"Aged","x":5.2,"y":4.0},{"s":"ITIC-Th","c":"Aged","x":5.7,"y":2.2},{"s":"ITIC-Th","c":"Aged","x":6.6,"y":1.9},{"s":"ITIC-Th","c":"Aged","x":7.7,"y":1.1},{"s":"ITIC-Th","c":"Aged","x":8.9,"y":1.9},{"s":"ITIC-Th","c":"Aged","x":10.2,"y":1.7},{"s":"ITIC-Th","c":"Aged","x":11.6,"y":2.6},{"s":"ITIC-Th","c":"Aged","x":13.2,"y":2.8},{"s":"ITIC-Th","c":"Aged","x":14.8,"y":3.7},{"s":"ITIC-Th","c":"Aged","x":16.2,"y":4.5},{"s":"ITIC-Th","c":"Aged","x":17.4,"y":5.3},{"s":"ITIC-Th","c":"Aged","x":18.3,"y":4.7},{"s":"ITIC-Th","c":"Aged","x":19.1,"y":3.2},{"s":"ITIC-Th","c":"Aged","x":20.1,"y":1.9},{"s":"ITIC-Th","c":"Aged","x":21.1,"y":1.8},{"s":"ITIC-Th","c":"Aged","x":22.0,"y":1.1}
    ]
  },
  "hconcat": [
    {
      "width": 190,
      "height": 286,
      "layer": [
        {
          "data": {"name": "A"},
          "mark": {"type": "line", "strokeWidth": 1},
          "encoding": {
            "x": {"field": "x", "type": "quantitative", "scale": {"domain": [0, 20], "nice": false, "zero": false}, "axis": {"title": null, "values": [0,2,4,6,8,10,12,14,16,18,20], "labels": false}},
            "y": {"field": "y", "type": "quantitative", "scale": {"domain": [0, 100], "nice": false, "zero": false}, "axis": {"title": "Intensity (abr.u.)", "ticks": false, "labels": false, "titleFontSize": 14, "titleX": -19, "titleY": 129, "titleAngle": -90, "titleBaseline": "middle", "titleAlign": "center"}},
            "color": {"field": "s", "type": "nominal", "scale": {"domain": ["PCBM", "ITIC", "ITIC-2F", "ITIC-M", "ITIC-DM", "ITIC-Th"], "range": ["#E8A838", "#138A8A", "#FF8A10", "#860086", "#3C3C3C", "#FF1A8C"]}, "legend": null},
            "strokeDash": {"field": "c", "type": "nominal", "scale": {"domain": ["Fresh", "Aged"], "range": [[1, 0], [1.5, 1.5]]}, "legend": null}
          }
        },
        {
          "data": {"values": [{"x": 0, "y": -6.3, "t": "0"}, {"x": 4, "y": -6.3, "t": "4"}, {"x": 8, "y": -6.3, "t": "8"}, {"x": 12, "y": -6.3, "t": "12"}, {"x": 16, "y": -6.3, "t": "16"}, {"x": 20, "y": -6.3, "t": "20"}]},
          "mark": {"type": "text", "align": "center", "baseline": "middle", "fontSize": 13, "color": "#000", "clip": false},
          "encoding": {"x": {"field": "x", "type": "quantitative"}, "y": {"field": "y", "type": "quantitative"}, "text": {"field": "t"}}
        },
        {
          "data": {"values": [{"c": "Fresh", "x": 1.23, "y": 96.5}, {"c": "Fresh", "x": 4.53, "y": 96.5}, {"c": "Aged", "x": 1.23, "y": 90.8}, {"c": "Aged", "x": 4.53, "y": 90.8}]},
          "mark": {"type": "line", "strokeWidth": 1.2, "color": "#E8A838"},
          "encoding": {
            "x": {"field": "x", "type": "quantitative"},
            "y": {"field": "y", "type": "quantitative"},
            "strokeDash": {"field": "c", "type": "nominal", "legend": null}
          }
        },
        {
          "data": {"values": [{"x": 5.05, "y": 96.5, "t": "Fresh"}, {"x": 5.05, "y": 90.7, "t": "Aged"}, {"x": 6.84, "y": -12.6, "t": "q"}]},
          "mark": {"type": "text", "align": "left", "baseline": "middle", "fontSize": 14, "color": "#000", "clip": false},
          "encoding": {"x": {"field": "x", "type": "quantitative"}, "y": {"field": "y", "type": "quantitative"}, "text": {"field": "t"}}
        },
        {
          "data": {"values": [{"x": 18.63, "y": 92.0, "t": "In plane"}]},
          "mark": {"type": "text", "align": "right", "baseline": "middle", "fontSize": 14, "color": "#000"},
          "encoding": {"x": {"field": "x", "type": "quantitative"}, "y": {"field": "y", "type": "quantitative"}, "text": {"field": "t"}}
        },
        {
          "data": {"values": [{"x": 18.25, "y": 77.0, "t": "PCBM"}, {"x": 18.25, "y": 63.0, "t": "ITIC"}, {"x": 18.25, "y": 50.8, "t": "ITIC-2F"}, {"x": 18.25, "y": 37.8, "t": "ITIC-M"}, {"x": 18.25, "y": 23.4, "t": "ITIC-DM"}, {"x": 18.25, "y": 9.8, "t": "ITIC-Th"}]},
          "mark": {"type": "text", "align": "right", "baseline": "middle", "fontSize": 12.5, "fontWeight": "bold", "color": "#A0A0A0"},
          "encoding": {"x": {"field": "x", "type": "quantitative"}, "y": {"field": "y", "type": "quantitative"}, "text": {"field": "t"}}
        },
        {
          "data": {"values": [{"x": -2.14, "y": 98.3, "t": "A"}]},
          "mark": {"type": "text", "align": "center", "baseline": "middle", "fontSize": 14, "fontWeight": "bold", "color": "#8C8C8C", "clip": false},
          "encoding": {"x": {"field": "x", "type": "quantitative"}, "y": {"field": "y", "type": "quantitative"}, "text": {"field": "t"}}
        },
        {
          "data": {"values": [{"x": 7.58, "y": -14.0, "t": "y"}]},
          "mark": {"type": "text", "align": "left", "baseline": "middle", "fontSize": 9, "color": "#000", "clip": false},
          "encoding": {"x": {"field": "x", "type": "quantitative"}, "y": {"field": "y", "type": "quantitative"}, "text": {"field": "t"}}
        },
        {
          "data": {"values": [{"x": 8.42, "y": -12.6, "t": "(nm"}, {"x": 12.26, "y": -12.6, "t": ")"}]},
          "mark": {"type": "text", "align": "left", "baseline": "middle", "fontSize": 14, "fontWeight": "bold", "color": "#000", "clip": false},
          "encoding": {"x": {"field": "x", "type": "quantitative"}, "y": {"field": "y", "type": "quantitative"}, "text": {"field": "t"}}
        },
        {
          "data": {"values": [{"x": 11.21, "y": -10.5, "t": "-1"}]},
          "mark": {"type": "text", "align": "left", "baseline": "middle", "fontSize": 9, "fontWeight": "bold", "color": "#000", "clip": false},
          "encoding": {"x": {"field": "x", "type": "quantitative"}, "y": {"field": "y", "type": "quantitative"}, "text": {"field": "t"}}
        }
      ]
    },
    {
      "width": 190,
      "height": 286,
      "layer": [
        {
          "data": {"name": "B"},
          "mark": {"type": "line", "strokeWidth": 1},
          "encoding": {
            "x": {"field": "x", "type": "quantitative", "scale": {"domain": [0, 24], "nice": false, "zero": false}, "axis": {"title": null, "values": [0,2,4,6,8,10,12,14,16,18,20,22,24], "labels": false}},
            "y": {"field": "y", "type": "quantitative", "scale": {"domain": [0, 100], "nice": false, "zero": false}, "axis": {"title": null, "ticks": false, "labels": false}},
            "color": {"field": "s", "type": "nominal", "scale": {"domain": ["PCBM", "ITIC", "ITIC-2F", "ITIC-M", "ITIC-DM", "ITIC-Th"], "range": ["#E8A838", "#138A8A", "#FF8A10", "#860086", "#3C3C3C", "#FF1A8C"]}, "legend": null},
            "strokeDash": {"field": "c", "type": "nominal", "scale": {"domain": ["Fresh", "Aged"], "range": [[1, 0], [1.5, 1.5]]}, "legend": null}
          }
        },
        {
          "data": {"values": [{"x": 0, "y": -6.3, "t": "0"}, {"x": 4, "y": -6.3, "t": "4"}, {"x": 8, "y": -6.3, "t": "8"}, {"x": 12, "y": -6.3, "t": "12"}, {"x": 16, "y": -6.3, "t": "16"}, {"x": 20, "y": -6.3, "t": "20"}, {"x": 24, "y": -6.3, "t": "24"}]},
          "mark": {"type": "text", "align": "center", "baseline": "middle", "fontSize": 13, "color": "#000", "clip": false},
          "encoding": {"x": {"field": "x", "type": "quantitative"}, "y": {"field": "y", "type": "quantitative"}, "text": {"field": "t"}}
        },
        {
          "data": {"values": [{"x": 8.33, "y": -12.6, "t": "q"}]},
          "mark": {"type": "text", "align": "left", "baseline": "middle", "fontSize": 14, "color": "#000", "clip": false},
          "encoding": {"x": {"field": "x", "type": "quantitative"}, "y": {"field": "y", "type": "quantitative"}, "text": {"field": "t"}}
        },
        {
          "data": {"values": [{"x": 23.1, "y": 92.0, "t": "Out-of-plane"}]},
          "mark": {"type": "text", "align": "right", "baseline": "middle", "fontSize": 14, "color": "#000"},
          "encoding": {"x": {"field": "x", "type": "quantitative"}, "y": {"field": "y", "type": "quantitative"}, "text": {"field": "t"}}
        },
        {
          "data": {"values": [{"x": -1.98, "y": 98.3, "t": "B"}]},
          "mark": {"type": "text", "align": "center", "baseline": "middle", "fontSize": 14, "fontWeight": "bold", "color": "#8C8C8C", "clip": false},
          "encoding": {"x": {"field": "x", "type": "quantitative"}, "y": {"field": "y", "type": "quantitative"}, "text": {"field": "t"}}
        },
        {
          "data": {"values": [{"x": 9.22, "y": -14.0, "t": "z"}]},
          "mark": {"type": "text", "align": "left", "baseline": "middle", "fontSize": 9, "color": "#000", "clip": false},
          "encoding": {"x": {"field": "x", "type": "quantitative"}, "y": {"field": "y", "type": "quantitative"}, "text": {"field": "t"}}
        },
        {
          "data": {"values": [{"x": 9.97, "y": -12.6, "t": "(nm"}, {"x": 14.58, "y": -12.6, "t": ")"}]},
          "mark": {"type": "text", "align": "left", "baseline": "middle", "fontSize": 14, "fontWeight": "bold", "color": "#000", "clip": false},
          "encoding": {"x": {"field": "x", "type": "quantitative"}, "y": {"field": "y", "type": "quantitative"}, "text": {"field": "t"}}
        },
        {
          "data": {"values": [{"x": 13.32, "y": -10.5, "t": "-1"}]},
          "mark": {"type": "text", "align": "left", "baseline": "middle", "fontSize": 9, "fontWeight": "bold", "color": "#000", "clip": false},
          "encoding": {"x": {"field": "x", "type": "quantitative"}, "y": {"field": "y", "type": "quantitative"}, "text": {"field": "t"}}
        }
      ]
    }
  ]
}
